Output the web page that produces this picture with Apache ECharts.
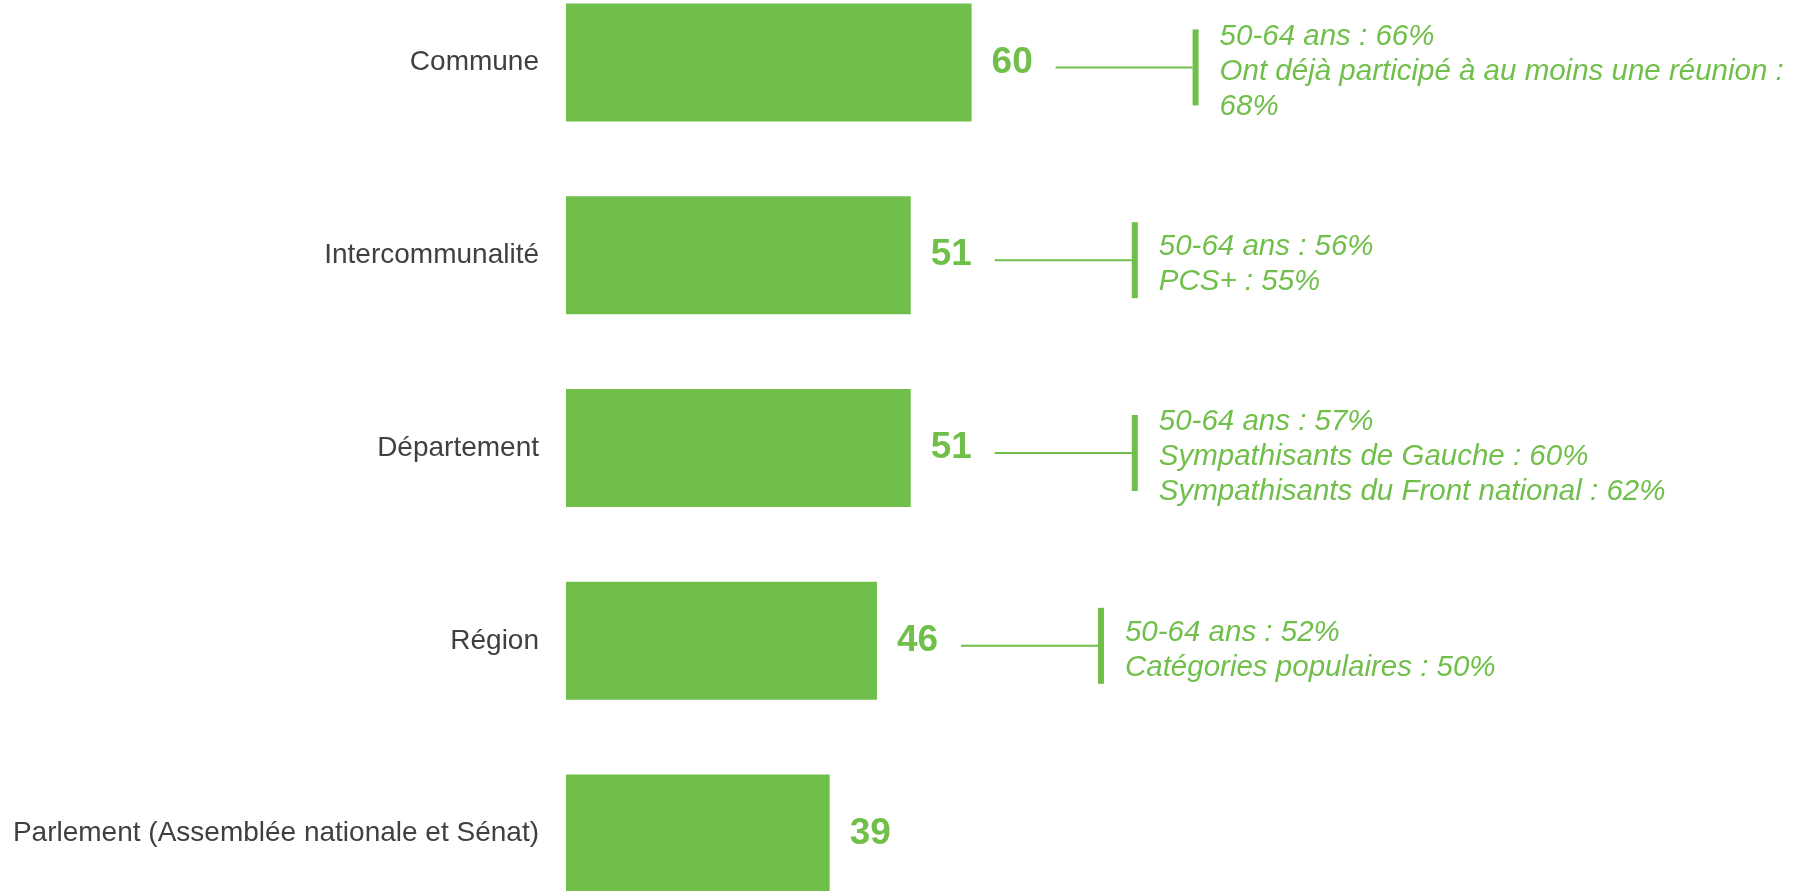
<!DOCTYPE html>
<html>
<head>
<meta charset="utf-8">
<script src="https://cdn.jsdelivr.net/npm/echarts@6/dist/echarts.min.js"></script>
<style>
  html, body { margin: 0; padding: 0; background: #ffffff; }
  #chart { width: 1804px; height: 891px; }
</style>
</head>
<body>
<div id="chart"></div>
<script>
// Niveaux de collectivité et score (%)
const categories = [
  'Commune',
  'Intercommunalité',
  'Département',
  'Région',
  'Parlement (Assemblée nationale et Sénat)'
];
const values = [60, 51, 51, 46, 39];

// Sous-populations qui se distinguent, une liste de lignes par niveau
const notes = [
  ['50-64 ans : 66%', 'Ont déjà participé à au moins une réunion :', '68%'],
  ['50-64 ans : 56%', 'PCS+ : 55%'],
  ['50-64 ans : 57%', 'Sympathisants de Gauche : 60%', 'Sympathisants du Front national : 62%'],
  ['50-64 ans : 52%', 'Catégories populaires : 50%'],
  []
];

const GREEN = '#71bf4b';
const FONT = '"Liberation Sans", Arial, Helvetica, sans-serif';

const chart = echarts.init(document.getElementById('chart'), null, { renderer: 'canvas' });

// Connecteur + accolade + texte, placé à droite de l'extrémité de chaque barre
function renderNote(params, api) {
  const idx = api.value(1);
  const lines = notes[idx];
  if (!lines || !lines.length) return null;
  const pt = api.coord([api.value(0), idx]);
  const y = pt[1] + 5;
  const x0 = pt[0] + 84;
  const x1 = x0 + 137;
  return {
    type: 'group',
    children: [
      {
        type: 'line',
        shape: { x1: x0, y1: y, x2: x1, y2: y },
        style: { stroke: GREEN, lineWidth: 2 }
      },
      {
        type: 'rect',
        shape: { x: x1, y: y - 38, width: 6, height: 76 },
        style: { fill: GREEN }
      },
      {
        type: 'text',
        x: x1 + 27,
        y: y + 4,
        style: {
          text: lines.join('\n'),
          fill: GREEN,
          font: 'italic 29.5px ' + FONT,
          lineHeight: 35,
          verticalAlign: 'middle',
          align: 'left'
        }
      }
    ]
  };
}

chart.setOption({
  animation: false,
  backgroundColor: '#ffffff',
  grid: {
    left: 566,
    width: 676,
    top: -34,
    height: 964,
    outerBoundsMode: 'none',
    containLabel: false
  },
  xAxis: {
    type: 'value',
    min: 0,
    max: 100,
    show: false
  },
  yAxis: {
    type: 'category',
    data: categories,
    inverse: true,
    axisLine: { show: false },
    axisTick: { show: false },
    splitLine: { show: false },
    axisLabel: {
      color: '#404040',
      fontSize: 28,
      fontFamily: FONT,
      margin: 27
    }
  },
  series: [
    {
      type: 'bar',
      data: values,
      barWidth: 118,
      itemStyle: { color: GREEN },
      label: {
        show: true,
        position: 'right',
        distance: 20,
        color: GREEN,
        fontSize: 37,
        fontWeight: 'bold',
        fontFamily: FONT
      }
    },
    {
      type: 'custom',
      renderItem: renderNote,
      data: values.map((v, i) => [v, i]),
      encode: { x: 0, y: 1 },
      clip: false,
      silent: true,
      z: 3
    }
  ]
});
</script>
</body>
</html>
